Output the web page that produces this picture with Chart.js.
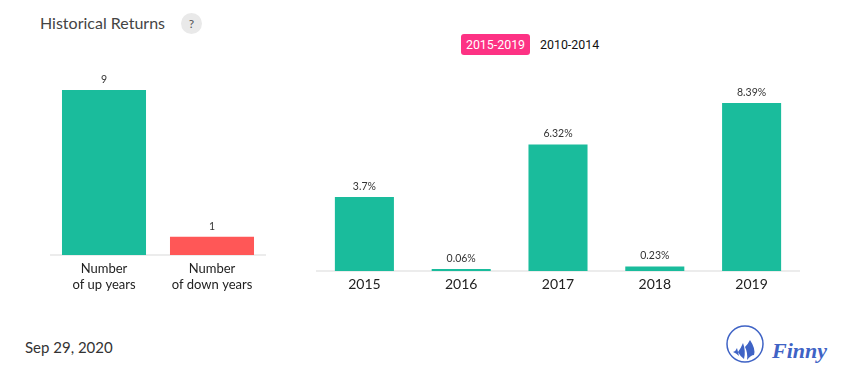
<!DOCTYPE html>
<html>
<head>
<meta charset="utf-8">
<title>Historical Returns</title>
<script src="https://cdn.jsdelivr.net/npm/chart.js@4"></script>
<style>
html, body { margin: 0; padding: 0; background: #fff; }
body { width: 855px; height: 382px; position: relative; overflow: hidden; font-family: Lato, sans-serif; }
.abs { position: absolute; white-space: nowrap; }
#title { left: 40px; top: 13px; font-size: 16px; line-height: 20px; color: #444; }
#help { left: 181px; top: 13px; width: 21px; height: 21px; border-radius: 50%; background: #e9e9e9; color: #555; font-size: 12px; line-height: 21px; text-align: center; }
#active { left: 461px; top: 34px; width: 69px; height: 21px; border-radius: 3px; background: #fd3284; color: #fff; font: 12.4px/21px Roboto, sans-serif; text-align: center; }
#other { left: 540px; top: 34px; color: #111; font: 12.4px/21px Roboto, sans-serif; }
#date { left: 25px; top: 337px; font-size: 15px; line-height: 20px; color: #333; }
#brand { left: 772px; top: 336px; font: italic bold 22px/30px "Liberation Serif", serif; color: #3f63c5; }
#logo { left: 726px; top: 325px; }
#countChart { position: absolute; left: 50px; top: 60px; }
#yearChart { position: absolute; left: 316px; top: 60px; }
</style>
</head>
<body>
<div class="abs" id="title">Historical Returns</div>
<div class="abs" id="help">?</div>
<div class="abs" id="active">2015-2019</div>
<div class="abs" id="other">2010-2014</div>
<div class="abs" id="date">Sep 29, 2020</div>
<svg class="abs" id="logo" width="38" height="38" viewBox="0 0 38 38">
  <circle cx="19" cy="19" r="18" fill="none" stroke="#3f63c5" stroke-width="1.5"/>
  <path d="M7 27 Q10 26 11 23 Q12 27 13 31 Q10 28 7 27 Z M12 27 Q15 23 17 18 Q20 26 18 34 Q14 31 12 27 Z M19 22 Q22 19 24 15 Q30 24 28 30 Q25 30 21 35 Q22 28 19 22 Z" fill="#3f63c5"/>
</svg>
<div class="abs" id="brand">Finny</div>
<canvas id="countChart" width="216" height="250"></canvas>
<canvas id="yearChart" width="484" height="250"></canvas>
<script>
// Données
const countLabels = [['Number', 'of up years'], ['Number', 'of down years']];
const countValues = [9, 1];
const countColors = ['#1abc9c', '#ff5757'];

const yearLabels = ['2015', '2016', '2017', '2018', '2019'];
const yearValues = [3.7, 0.06, 6.32, 0.23, 8.39];
const yearText = ['3.7%', '0.06%', '6.32%', '0.23%', '8.39%'];

// Texte au-dessus de chaque barre
const barTextPlugin = {
    id: 'barText',
    afterDatasetsDraw(chart, args, opts) {
        const ctx = chart.ctx;
        ctx.save();
        ctx.font = '10.5px Lato, sans-serif';
        ctx.fillStyle = '#333';
        ctx.textAlign = 'center';
        ctx.textBaseline = 'alphabetic';
        chart.getDatasetMeta(0).data.forEach((bar, i) => {
            ctx.fillText(opts.texts[i], bar.x, bar.y - 7);
        });
        ctx.restore();
    }
};

function makeChart(id, labels, values, colors, texts, barFraction, yMax, axisHeight, tickSize, tickPadding) {
    return new Chart(document.getElementById(id), {
        type: 'bar',
        data: {
            labels: labels,
            datasets: [{
                data: values,
                backgroundColor: colors,
                borderWidth: 0,
                categoryPercentage: 1,
                barPercentage: barFraction,
                minBarLength: 2
            }]
        },
        options: {
            responsive: false,
            animation: false,
            layout: { padding: 0 },
            plugins: {
                legend: { display: false },
                tooltip: { enabled: false },
                barText: { texts: texts }
            },
            scales: {
                x: {
                    grid: { display: false, drawTicks: false },
                    border: { color: '#ececec', width: 2 },
                    ticks: {
                        color: '#222',
                        padding: tickPadding,
                        maxRotation: 0,
                        font: { family: 'Lato, sans-serif', size: tickSize, lineHeight: 1.2 }
                    },
                    afterFit(scale) { scale.height = axisHeight; }
                },
                y: { display: false, min: 0, max: yMax }
            }
        },
        plugins: [barTextPlugin]
    });
}

makeChart('countChart', countLabels, countValues, countColors, countValues.map(String), 0.778, 10.64, 55, 13, 6);
makeChart('yearChart', yearLabels, yearValues, '#1abc9c', yearText, 0.61, 10.54, 39, 14, 5);
</script>
</body>
</html>
